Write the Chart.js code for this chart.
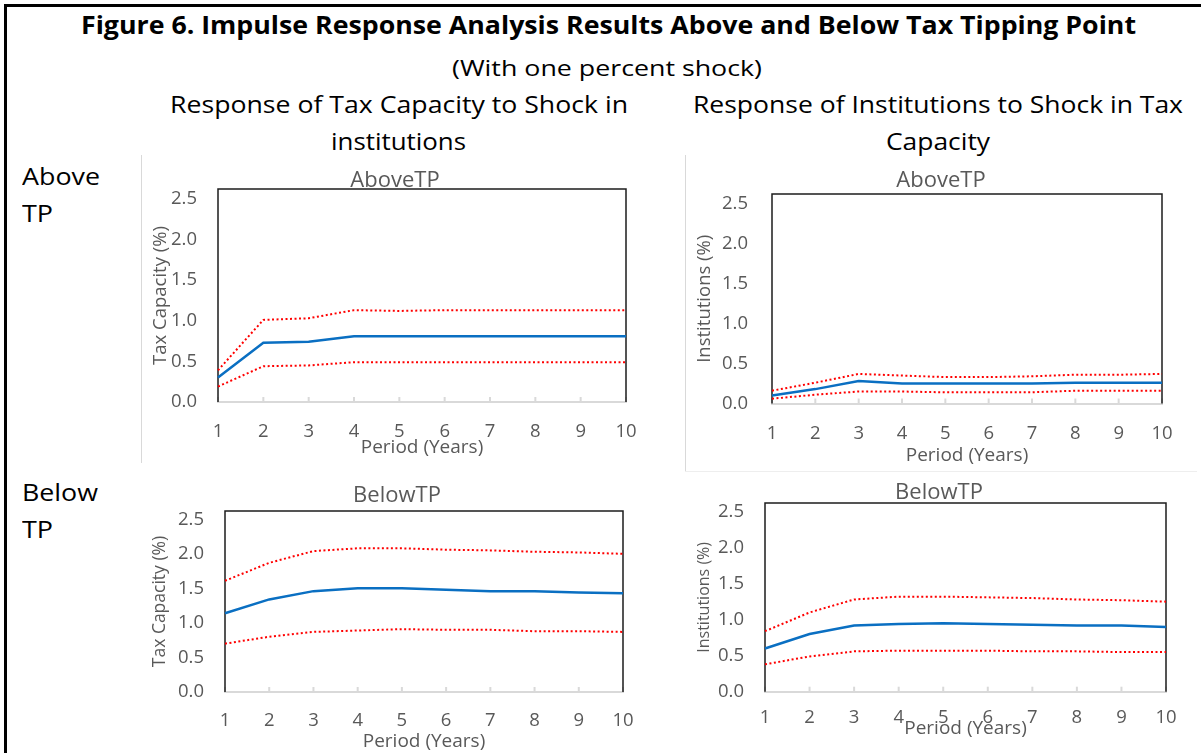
<!DOCTYPE html>
<html>
<head>
<meta charset="utf-8">
<script src="https://cdn.jsdelivr.net/npm/chart.js@4.4.1/dist/chart.umd.min.js"></script>
<style>
  html, body { margin: 0; padding: 0; background: #fff; overflow: hidden; }
  body { width: 1201px; height: 753px; position: relative; font-family: "Open Sans", sans-serif; }
  .frame { position: absolute; left: 4px; top: 4px; width: 1300px; height: 900px; border-left: 3px solid #000; border-top: 3px solid #000; }
  .lbl { position: absolute; white-space: nowrap; color: #000; line-height: 1; transform-origin: 0 50%; }
  .edge { position: absolute; background: #d9d9d9; }
  canvas { position: absolute; display: block; }
</style>
</head>
<body>
<div class="frame"></div>
<div class="edge" style="left:141px; top:155px; width:1px; height:308px;"></div>
<div class="edge" style="left:685px; top:155px; width:1px; height:317px;"></div>
<div class="edge" style="left:685px; top:471px; width:512px; height:1px; background:#eeeeee;"></div>
<canvas id="taxAbove" width="498" height="300" style="left:142px; top:163px;"></canvas>
<canvas id="instAbove" width="512" height="309" style="left:685px; top:163px;"></canvas>
<canvas id="taxBelow" width="498" height="275" style="left:142px; top:478px;"></canvas>
<canvas id="instBelow" width="512" height="275" style="left:685px; top:478px;"></canvas>
<script>
// periods on the x axis and the y tick values
const periods = ["1", "2", "3", "4", "5", "6", "7", "8", "9", "10"];
const yTickValues = [0, 0.5, 1, 1.5, 2, 2.5];

// response of tax capacity to a shock in institutions, above the tipping point
const taxAboveMid = [0.30, 0.73, 0.74, 0.81, 0.81, 0.81, 0.81, 0.81, 0.81, 0.81];
const taxAboveUpper = [0.39, 1.01, 1.03, 1.13, 1.12, 1.13, 1.13, 1.13, 1.13, 1.13];
const taxAboveLower = [0.19, 0.44, 0.45, 0.49, 0.49, 0.49, 0.49, 0.49, 0.49, 0.49];

// response of institutions to a shock in tax capacity, above the tipping point
const instAboveMid = [0.10, 0.18, 0.28, 0.25, 0.25, 0.25, 0.25, 0.26, 0.26, 0.26];
const instAboveUpper = [0.16, 0.26, 0.37, 0.35, 0.33, 0.33, 0.34, 0.36, 0.36, 0.37];
const instAboveLower = [0.06, 0.11, 0.15, 0.15, 0.14, 0.14, 0.14, 0.16, 0.16, 0.16];

// below the tipping point
const taxBelowMid = [1.14, 1.34, 1.46, 1.50, 1.50, 1.48, 1.46, 1.46, 1.44, 1.43];
const taxBelowUpper = [1.61, 1.87, 2.04, 2.08, 2.08, 2.06, 2.05, 2.03, 2.02, 2.00];
const taxBelowLower = [0.70, 0.80, 0.87, 0.89, 0.91, 0.90, 0.90, 0.88, 0.88, 0.87];

const instBelowMid = [0.60, 0.80, 0.92, 0.94, 0.95, 0.94, 0.93, 0.92, 0.92, 0.90];
const instBelowUpper = [0.84, 1.10, 1.28, 1.32, 1.32, 1.31, 1.30, 1.28, 1.27, 1.25];
const instBelowLower = [0.38, 0.49, 0.56, 0.57, 0.57, 0.57, 0.56, 0.56, 0.55, 0.55];

// headings, placed by centre (cx) or left edge (x) and squeezed to the width of the original
const headings = [
  { text: "Figure 6. Impulse Response Analysis Results Above and Below Tax Tipping Point", cx: 608, cy: 24, w: 1055, size: 25, bold: true },
  { text: "(With one percent shock)", cx: 607, cy: 66.5, w: 310, size: 22 },
  { text: "Response of Tax Capacity to Shock in", cx: 399, cy: 103.5, w: 458, size: 24 },
  { text: "institutions", cx: 398, cy: 141, w: 135, size: 24 },
  { text: "Response of Institutions to Shock in Tax", cx: 938, cy: 103.5, w: 490, size: 24 },
  { text: "Capacity", cx: 938, cy: 141, w: 104, size: 24 },
  { text: "Above", x: 22, cy: 175.5, w: 78, size: 24 },
  { text: "TP", x: 22, cy: 212.5, w: 31, size: 24 },
  { text: "Below", x: 22, cy: 492, w: 76, size: 24 },
  { text: "TP", x: 22, cy: 529, w: 31, size: 24 }
];

headings.forEach((h) => {
  const el = document.createElement("div");
  el.className = "lbl";
  el.textContent = h.text;
  el.style.fontSize = h.size + "px";
  el.style.fontWeight = h.bold ? "700" : "400";
  document.body.appendChild(el);
  const natural = el.getBoundingClientRect().width;
  const k = h.w / natural;
  const left = h.cx !== undefined ? h.cx - h.w / 2 : h.x;
  el.style.left = left + "px";
  el.style.top = (h.cy - h.size / 2) + "px";
  el.style.transform = `scaleX(${k})`;
});

const grey = "#595959";
const blue = "#0a6fc2";
const red = "#ff0000";
const family = "'Open Sans', sans-serif";

// black plot box plus the small inner tick marks on the x axis
const plotBox = {
  id: "plotBox",
  beforeDatasetsDraw(chart) {
    const { ctx, chartArea: a, scales } = chart;
    ctx.save();
    ctx.strokeStyle = "#d9d9d9";
    ctx.lineWidth = 2;
    scales.x.ticks.forEach((t, i) => {
      const px = scales.x.getPixelForTick(i);
      ctx.beginPath();
      ctx.moveTo(px, a.bottom);
      ctx.lineTo(px, a.bottom - 5);
      ctx.stroke();
    });
    ctx.strokeStyle = "#1c1c1c";
    ctx.lineWidth = 1.5;
    ctx.beginPath();
    ctx.moveTo(a.left, a.bottom);
    ctx.lineTo(a.left, a.top);
    ctx.lineTo(a.right, a.top);
    ctx.lineTo(a.right, a.bottom);
    ctx.stroke();
    ctx.restore();
  }
};

function makeChart(id, title, yTitle, upper, mid, lower, lay) {
  return new Chart(document.getElementById(id), {
    type: "line",
    data: {
      labels: periods,
      datasets: [
        { data: upper, borderColor: red, borderWidth: 2, borderDash: [2, 2.5], pointRadius: 0 },
        { data: lower, borderColor: red, borderWidth: 2, borderDash: [2, 2.5], pointRadius: 0 },
        { data: mid, borderColor: blue, borderWidth: 2.5, pointRadius: 0 }
      ]
    },
    options: {
      responsive: false,
      animation: false,
      // left padding moves the chart title so it sits where the original's does
      layout: { autoPadding: false, padding: { left: lay.left, right: lay.right, top: 0, bottom: 0 } },
      plugins: {
        legend: { display: false },
        tooltip: { enabled: false },
        title: {
          display: true,
          text: title,
          color: grey,
          font: { family, size: 22, weight: "normal", lineHeight: 1 },
          padding: { top: lay.titleTop, bottom: lay.titleBottom }
        }
      },
      scales: {
        x: {
          offset: false,
          grid: { display: false, drawTicks: false },
          border: { display: true, color: "#d9d9d9", width: 2 },
          ticks: { color: grey, padding: lay.xPad, maxRotation: 0, autoSkip: false, font: { family, size: 18.5, lineHeight: 1.2 } },
          title: {
            display: true,
            text: "Period (Years)",
            color: grey,
            font: { family, size: 19, lineHeight: 1 },
            padding: { top: 0, bottom: lay.xtBottom }
          },
          afterFit: (scale) => {
            scale.height = lay.xH;
            scale.paddingLeft = 0;
            scale.paddingRight = 0;
          }
        },
        y: {
          min: 0,
          max: 2.62,
          grid: { display: false, drawTicks: false },
          border: { display: false },
          afterBuildTicks: (scale) => {
            scale.ticks = yTickValues.map((v) => ({ value: v }));
          },
          ticks: {
            color: grey,
            padding: lay.yPad,
            font: { family, size: 18.5, lineHeight: 1.2 },
            callback: (v) => Number(v).toFixed(1)
          },
          title: {
            display: true,
            text: yTitle,
            color: grey,
            font: { family, size: lay.ytSize, lineHeight: 1.2 },
            padding: { top: lay.ytTop - lay.left, bottom: 0 }
          },
          afterFit: (scale) => {
            scale.width = lay.yW - lay.left;
            scale.paddingTop = 0;
            scale.paddingBottom = 0;
          }
        }
      }
    },
    plugins: [plotBox]
  });
}

makeChart("taxAbove", "AboveTP", "Tax Capacity (%)", taxAboveUpper, taxAboveMid, taxAboveLower,
  { left: 22, right: 14, titleTop: 7, titleBottom: -3, xH: 61, xPad: 18.4, xtBottom: 5.5, yW: 76, yPad: 21, ytTop: 8, ytSize: 18.5 });
makeChart("instAbove", "AboveTP", "Institutions (%)", instAboveUpper, instAboveMid, instAboveLower,
  { left: 35, right: 35, titleTop: 6.7, titleBottom: 2.3, xH: 68.5, xPad: 18.9, xtBottom: 6.5, yW: 87, yPad: 24, ytTop: 9, ytSize: 18.5 });
makeChart("taxBelow", "BelowTP", "Tax Capacity (%)", taxBelowUpper, taxBelowMid, taxBelowLower,
  { left: 29, right: 17, titleTop: 7, titleBottom: 4, xH: 61, xPad: 17.4, xtBottom: 1.5, yW: 83, yPad: 21, ytTop: 8, ytSize: 17.5 });
makeChart("instBelow", "BelowTP", "Institutions (%)", instBelowUpper, instBelowMid, instBelowLower,
  { left: 27, right: 31, titleTop: 4, titleBottom: -1, xH: 61.3, xPad: 14.7, xtBottom: 14.5, yW: 80, yPad: 21, ytTop: 10, ytSize: 16 });
</script>
</body>
</html>
